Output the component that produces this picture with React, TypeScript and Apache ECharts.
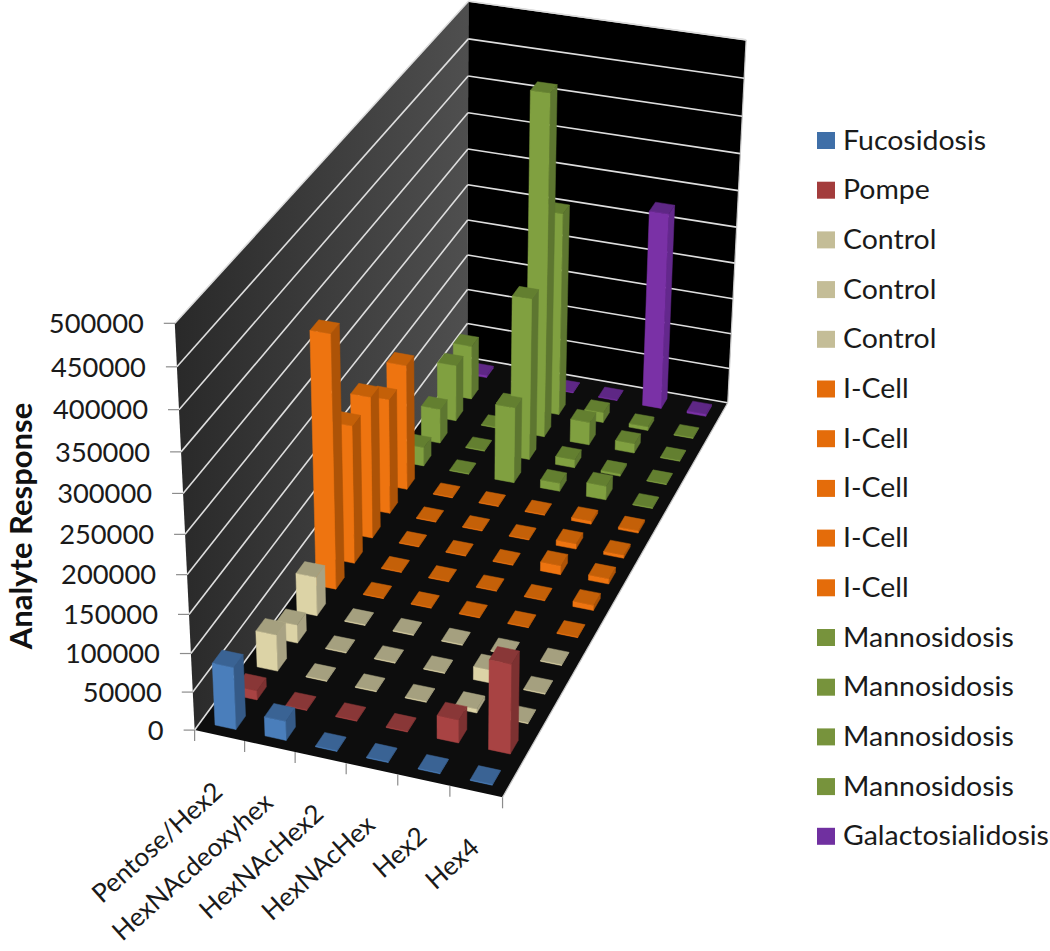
import React, { useEffect, useRef } from "react";
import * as echarts from "echarts";

const categories = ["Pentose/Hex2", "HexNAcdeoxyhex", "HexNAcHex2", "HexNAcHex", "Hex2", "Hex4"];
const yTicks = [0, 50000, 100000, 150000, 200000, 250000, 300000, 350000, 400000, 450000, 500000];

const fucosidosis = [81000, 25000, 1000, 1000, 1000, 1000];
const pompe = [12000, 1000, 1000, 1000, 30000, 116000];
const control1 = [48000, 1000, 1000, 1000, 5000, 1000];
const control2 = [24000, 1000, 1000, 1000, 17000, 1000];
const control3 = [52000, 1000, 1000, 1000, 1000, 1000];
const iCell1 = [336000, 1000, 1000, 1000, 1000, 1000];
const iCell2 = [186000, 1000, 1000, 1000, 1000, 7000];
const iCell3 = [192000, 1000, 1000, 1000, 12000, 7000];
const iCell4 = [157000, 1000, 1000, 1000, 7000, 4000];
const iCell5 = [172000, 1000, 1000, 1000, 4000, 3000];
const mannosidosis1 = [26000, 1000, 105000, 11000, 19000, 1000];
const mannosidosis2 = [48000, 1000, 224000, 11000, 3000, 1000];
const mannosidosis3 = [79000, 1000, 469000, 32000, 13000, 1000];
const mannosidosis4 = [76000, 1000, 283000, 14000, 5000, 1000];
const galactosialidosis = [3000, 1000, 1000, 1000, 275000, 3000];

const rowNames = ["Fucosidosis", "Pompe", "Control", "Control", "Control", "I-Cell", "I-Cell", "I-Cell", "I-Cell", "I-Cell", "Mannosidosis", "Mannosidosis", "Mannosidosis", "Mannosidosis", "Galactosialidosis"];
const rowValues = [fucosidosis, pompe, control1, control2, control3, iCell1, iCell2, iCell3, iCell4, iCell5, mannosidosis1, mannosidosis2, mannosidosis3, mannosidosis4, galactosialidosis];

type Tone = { legend: string; front: string; top: string; side: string };
const BLUE: Tone = { legend: "#3f6fa8", front: "#4a7ebb", top: "#3a6394", side: "#355a87" };
const RED: Tone = { legend: "#a33c3c", front: "#a84343", top: "#893737", side: "#7d3131" };
const CREAM: Tone = { legend: "#c4bd97", front: "#dcd3a6", top: "#a5a07f", side: "#a8a283" };
const ORANGE: Tone = { legend: "#e46c0a", front: "#ee7410", top: "#c46008", side: "#ad5307" };
const GREEN: Tone = { legend: "#77933c", front: "#80a040", top: "#637f30", side: "#5d7630" };
const PURPLE: Tone = { legend: "#7030a0", front: "#7a31a6", top: "#5e2785", side: "#63288c" };
const rowTones = [BLUE, RED, CREAM, CREAM, CREAM, ORANGE, ORANGE, ORANGE, ORANGE, ORANGE, GREEN, GREEN, GREEN, GREEN, PURPLE];

const FONT = 'Lato, "Noto Sans", sans-serif';

// Camera calibration: cube corner (u, v, w) -> page pixel (x, y)
const CAMERA_FIT: number[][] = [
  [0, 0, 0, 195, 731],
  [0, 0, 0.5, 186, 534],
  [0, 0, 1, 174, 323],
  [0, 1, 0, 467, 357],
  [0, 1, 0.5, 468, 184],
  [0, 1, 1, 468, 2],
  [1, 1, 0, 727, 403],
  [1, 1, 0.5, 738, 227],
  [1, 1, 1, 746, 40],
  [1, 0, 0, 502, 797],
];

function fitCamera(points: number[][]): number[] {
  const n = 11;
  const M: number[][] = Array.from({ length: n }, () => new Array(n + 1).fill(0));
  const add = (row: number[], rhs: number) => {
    for (let a = 0; a < n; a++) {
      for (let b = 0; b < n; b++) M[a][b] += row[a] * row[b];
      M[a][n] += row[a] * rhs;
    }
  };
  for (const [u, v, w, x, y] of points) {
    add([u, v, w, 1, 0, 0, 0, 0, -x * u, -x * v, -x * w], x);
    add([0, 0, 0, 0, u, v, w, 1, -y * u, -y * v, -y * w], y);
  }
  for (let c = 0; c < n; c++) {
    let best = c;
    for (let r = c + 1; r < n; r++) if (Math.abs(M[r][c]) > Math.abs(M[best][c])) best = r;
    [M[c], M[best]] = [M[best], M[c]];
    for (let r = 0; r < n; r++) {
      if (r === c) continue;
      const f = M[r][c] / M[c][c];
      for (let k = c; k <= n; k++) M[r][k] -= f * M[c][k];
    }
  }
  return M.map((row, i) => row[n] / row[i]);
}

const P = fitCamera(CAMERA_FIT);
function project(u: number, v: number, w: number): number[] {
  const d = P[8] * u + P[9] * v + P[10] * w + 1;
  return [(P[0] * u + P[1] * v + P[2] * w + P[3]) / d, (P[4] * u + P[5] * v + P[6] * w + P[7]) / d];
}

const BAR_U = 0.42; // share of a category cell taken by a bar
const BAR_V = 0.45; // share of a row cell taken by a bar

function barRenderer(row: number, tone: Tone) {
  return (params: any, api: any) => {
    const cs = params.coordSys;
    const p = api.coord([api.value(0), api.value(1)]);
    const cellU = api.size([1, 0])[0] / cs.width;
    const uc = (p[0] - cs.x) / cs.width;
    const w = (cs.y + cs.height - p[1]) / cs.height;
    const cellV = 1 / rowNames.length;
    const vc = (row + 0.5) * cellV;
    const u0 = uc - (cellU * BAR_U) / 2;
    const u1 = uc + (cellU * BAR_U) / 2;
    const v0 = vc - (cellV * BAR_V) / 2;
    const v1 = vc + (cellV * BAR_V) / 2;
    const poly = (pts: number[][], fill: string) => ({
      type: "polygon",
      silent: true,
      shape: { points: pts },
      style: { fill, stroke: fill, lineWidth: 0.5 },
    });
    return {
      type: "group",
      children: [
        poly([project(u1, v0, 0), project(u1, v1, 0), project(u1, v1, w), project(u1, v0, w)], tone.side),
        poly([project(u0, v0, w), project(u1, v0, w), project(u1, v1, w), project(u0, v1, w)], tone.top),
        poly([project(u0, v0, 0), project(u1, v0, 0), project(u1, v0, w), project(u0, v0, w)], tone.front),
      ],
    };
  };
}

const frameRenderer = () => {
  const wallEdge = { stroke: "#c8c8c8", lineWidth: 1.2 };
  const poly = (pts: number[][], style: any) => ({ type: "polygon", silent: true, shape: { points: pts }, style });
  return {
    type: "group",
    children: [
      poly([project(0, 0, 0), project(0, 1, 0), project(0, 1, 1), project(0, 0, 1)], {
        fill: {
          type: "linear", x: 0, y: 0, x2: 1, y2: 0,
          colorStops: [{ offset: 0, color: "#292929" }, { offset: 1, color: "#4f4f4f" }],
        },
      }),
      poly([project(0, 1, 0), project(1, 1, 0), project(1, 1, 1), project(0, 1, 1)], { fill: "#000000" }),
      poly([project(0, 0, 0), project(1, 0, 0), project(1, 1, 0), project(0, 1, 0)], { fill: "#0d0d0d" }),
      { type: "line", silent: true, shape: seg(project(1, 0, 0), project(1, 1, 0)), style: wallEdge },
      { type: "line", silent: true, shape: seg(project(1, 1, 0), project(1, 1, 1)), style: wallEdge },
      { type: "line", silent: true, shape: seg(project(0, 1, 1), project(1, 1, 1)), style: wallEdge },
    ],
  };
};

function seg(a: number[], b: number[]) {
  return { x1: a[0], y1: a[1], x2: b[0], y2: b[1] };
}

const gridRenderer = (params: any, api: any) => {
  const cs = params.coordSys;
  const p = api.coord([0, api.value(1)]);
  const w = (cs.y + cs.height - p[1]) / cs.height;
  const grid = { stroke: "#dedede", lineWidth: 1.6 };
  const tick = { stroke: "#8c8c8c", lineWidth: 1.2 };
  const a = project(0, 0, w);
  const children: any[] = [
    { type: "line", silent: true, shape: seg(a, project(0, 1, w)), style: grid },
    { type: "line", silent: true, shape: seg(project(0, 1, w), project(1, 1, w)), style: grid },
    { type: "line", silent: true, shape: seg([a[0] - 11, a[1]], a), style: tick },
    {
      type: "text",
      silent: true,
      x: a[0] - 31,
      y: a[1],
      scaleX: 1.05,
      style: { text: String(api.value(1)), fill: "#1a1a1a", font: `26px ${FONT}`, align: "right", verticalAlign: "middle" },
    },
  ];
  return { type: "group", children };
};

const categoryRenderer = (params: any, api: any) => {
  const cs = params.coordSys;
  const i = api.value(0);
  const p = api.coord([i, 0]);
  const uc = (p[0] - cs.x) / cs.width;
  const cell = api.size([1, 0])[0] / cs.width;
  const tickStyle = { stroke: "#8c8c8c", lineWidth: 1.2 };
  const base = project(uc, 0, 0);
  const l = project(uc - cell / 2, 0, 0);
  const r = project(uc + cell / 2, 0, 0);
  const children: any[] = [
    { type: "line", silent: true, shape: seg(l, [l[0], l[1] + 11]), style: tickStyle },
    {
      type: "text",
      silent: true,
      x: base[0] - 2,
      y: base[1] + 51,
      rotation: (42 * Math.PI) / 180,
      style: { text: categories[i], fill: "#1a1a1a", font: `26px ${FONT}`, align: "right", verticalAlign: "middle" },
    },
  ];
  if (i === categories.length - 1) {
    children.push({ type: "line", silent: true, shape: seg(r, [r[0], r[1] + 11]), style: tickStyle });
  }
  return { type: "group", children };
};

const LEGEND_X = 817;
const LEGEND_Y = 140.5;
const LEGEND_STEP = 49.7;

export default function App() {
  const ref = useRef<HTMLDivElement | null>(null);
  useEffect(() => {
    const chart = echarts.init(ref.current as HTMLDivElement, undefined, { renderer: "svg" });
    const barSeries = rowNames.map((name, row) => ({
      type: "custom",
      name,
      coordinateSystem: "cartesian2d",
      z: 30 - row,
      renderItem: barRenderer(row, rowTones[row]),
      data: rowValues[row].map((v, i) => [i, v]),
      clip: false,
    }));
    chart.setOption({
      animation: false,
      backgroundColor: "#ffffff",
      grid: { left: 0, top: 0, right: 0, bottom: 0, containLabel: false },
      xAxis: { type: "category", data: categories, show: false },
      yAxis: { type: "value", min: 0, max: 500000, interval: 50000, show: false },
      series: [
        { type: "custom", name: "frame", coordinateSystem: "cartesian2d", z: 1, renderItem: frameRenderer, data: [[0, 0]], clip: false },
        { type: "custom", name: "grid", coordinateSystem: "cartesian2d", z: 2, renderItem: gridRenderer, data: yTicks.map((t) => [0, t]), clip: false },
        { type: "custom", name: "categories", coordinateSystem: "cartesian2d", z: 2, renderItem: categoryRenderer, data: categories.map((_, i) => [i, 0]), clip: false },
        ...barSeries,
      ],
      graphic: [
        {
          type: "text",
          x: 20,
          y: 526,
          rotation: Math.PI / 2,
          style: { text: "Analyte Response", fill: "#111", font: `bold 31px ${FONT}`, align: "center", verticalAlign: "middle" },
        },
        ...rowNames.flatMap((name, i) => [
          {
            type: "rect",
            shape: { x: LEGEND_X, y: LEGEND_Y + i * LEGEND_STEP - 8.5, width: 18, height: 17 },
            style: { fill: rowTones[i].legend },
          },
          {
            type: "text",
            x: LEGEND_X + 26,
            y: LEGEND_Y + i * LEGEND_STEP - 1,
            scaleX: 1.095,
            style: { text: name, fill: "#1a1a1a", font: `26px ${FONT}`, align: "left", verticalAlign: "middle" },
          },
        ]),
      ],
    });
    return () => chart.dispose();
  }, []);
  return <div ref={ref} style={{ position: "absolute", left: 0, top: 0, width: 1050, height: 951 }} />;
}
